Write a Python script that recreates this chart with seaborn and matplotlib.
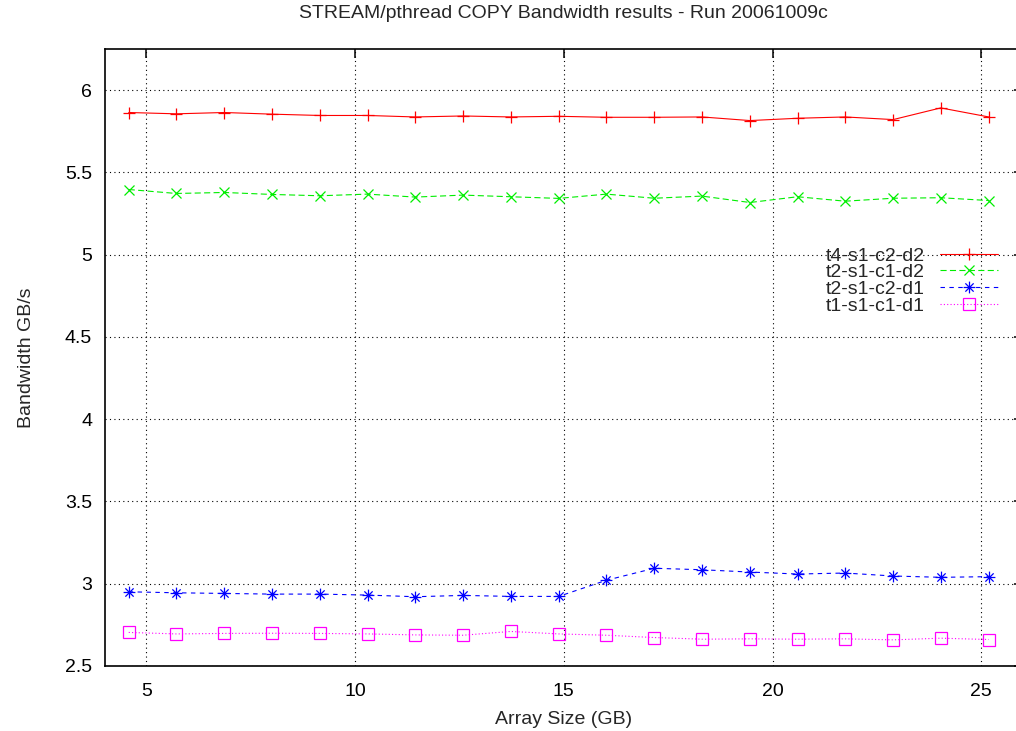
import matplotlib
matplotlib.use("Agg")
import matplotlib.pyplot as plt
import seaborn as sns
import numpy as np
from matplotlib.path import Path
from matplotlib.ticker import FuncFormatter

# Array size (GB) for each run
array_size = [4.58, 5.72, 6.87, 8.01, 9.16, 10.30, 11.44, 12.59, 13.73, 14.88,
              16.02, 17.17, 18.31, 19.46, 20.60, 21.74, 22.89, 24.03, 25.18]

# Bandwidth GB/s per configuration
t4_s1_c2_d2 = [5.864, 5.856, 5.864, 5.854, 5.846, 5.846, 5.837, 5.843, 5.837, 5.841,
               5.835, 5.835, 5.837, 5.815, 5.829, 5.837, 5.821, 5.892, 5.837]
t2_s1_c1_d2 = [5.396, 5.372, 5.378, 5.366, 5.358, 5.368, 5.350, 5.362, 5.352, 5.342,
               5.368, 5.343, 5.356, 5.317, 5.352, 5.325, 5.343, 5.346, 5.329]
t2_s1_c2_d1 = [2.951, 2.945, 2.941, 2.937, 2.937, 2.931, 2.921, 2.929, 2.923, 2.923,
               3.021, 3.094, 3.085, 3.071, 3.059, 3.065, 3.047, 3.039, 3.043]
t1_s1_c1_d1 = [2.704, 2.695, 2.698, 2.699, 2.698, 2.695, 2.689, 2.687, 2.710, 2.695,
               2.687, 2.673, 2.663, 2.665, 2.663, 2.665, 2.659, 2.669, 2.661]

labels = ["t4-s1-c2-d2", "t2-s1-c1-d2", "t2-s1-c2-d1", "t1-s1-c1-d1"]
x_ticks = [5, 10, 15, 20, 25]
y_ticks = [2.5, 3, 3.5, 4, 4.5, 5, 5.5, 6]

sns.set_theme(style="white")
plt.rcParams['font.family'] = ['Liberation Sans', 'DejaVu Sans']
plt.rcParams['font.size'] = 14

# gnuplot style asterisk (plus + cross)
asterisk = Path([(-1, 0), (1, 0), (0, -1), (0, 1),
                 (-0.7, -0.7), (0.7, 0.7), (-0.7, 0.7), (0.7, -0.7)],
                [Path.MOVETO, Path.LINETO] * 4)

styles = [
    dict(color='#ff0000', marker='+', linestyle='-', markersize=8),
    dict(color='#00ee00', marker='x', linestyle=(0, (5.5, 3)), markersize=7),
    dict(color='#0000ff', marker=asterisk, linestyle=(0, (4, 4)), markersize=8.5),
    dict(color='#ff00ff', marker='s', linestyle=(0, (1, 2)), markersize=8,
         markerfacecolor='none'),
]

fig = plt.figure(figsize=(10.16, 7.31), dpi=100)
ax = fig.add_axes([104.5 / 1016, 1 - 666 / 731, (1023 - 104.5) / 1016, (666 - 49) / 731])

for series, label, st in zip([t4_s1_c2_d2, t2_s1_c1_d2, t2_s1_c2_d1, t1_s1_c1_d1], labels, styles):
    st = dict(st)
    color = st.pop('color')
    sns.lineplot(x=array_size, y=series, ax=ax, color=color, label=label,
                 linewidth=0.8, markeredgecolor=color, markeredgewidth=0.9, **st)

ax.set_xlim(4, 26)
ax.set_ylim(2.5, 6.25)
ax.set_xticks(x_ticks)
ax.set_yticks(y_ticks)
ax.yaxis.set_major_formatter(FuncFormatter(lambda v, p: '%g' % v))
ax.tick_params(direction='in', length=6.5, width=1.1, top=True, right=True,
               labelsize=14, colors='black')
ax.tick_params(axis='y', pad=9)
ax.tick_params(axis='x', pad=12)
ax.grid(True, color='black', linestyle=(0, (1, 3)), linewidth=0.8)
for s in ax.spines.values():
    s.set_color('black')
    s.set_linewidth(1.2)

ax.set_title("STREAM/pthread COPY Bandwidth results - Run 20061009c", fontsize=14, pad=22)
ax.set_xlabel("Array Size (GB)", fontsize=14, labelpad=8)
ax.set_ylabel("Bandwidth GB/s", fontsize=14)
ax.yaxis.set_label_coords(-0.076, 0.5)

ax.legend(loc='upper right', bbox_to_anchor=(998 / 1016, 1 - 247 / 731),
          bbox_transform=fig.transFigure, frameon=False, markerfirst=False,
          fontsize=14, handlelength=3.0, handletextpad=0.77, labelspacing=-0.05,
          borderpad=0, borderaxespad=0)

fig.savefig('out.png', dpi=100)
